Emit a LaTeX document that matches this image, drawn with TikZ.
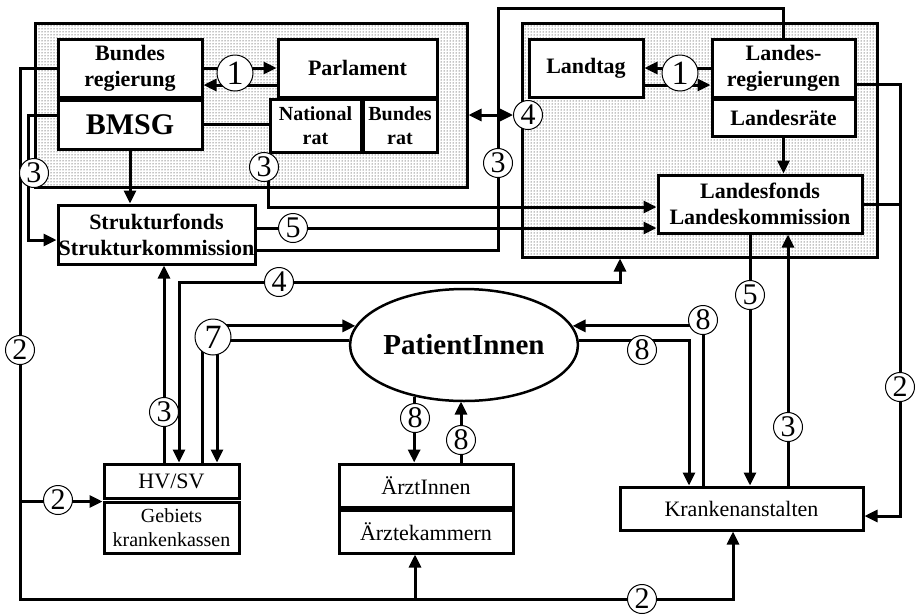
\documentclass[tikz,border=0pt]{standalone}
\usepackage{fontspec}
\setmainfont{Liberation Serif}
\usetikzlibrary{arrows.meta,patterns,shapes.geometric}

\begin{document}
\begin{tikzpicture}[x=1pt,y=-1pt,
  area/.style={draw,line width=3pt,pattern=dots,pattern color=black,inner sep=0pt},
  box/.style={draw,fill=white,line width=3pt,inner sep=0pt,align=center},
  bbox/.style={box,font=\bfseries\fontsize{22}{26}\selectfont},
  rbox/.style={box,font=\fontsize{22}{26}\selectfont},
  link/.style={line width=3pt},
  arr/.style={link,-{Triangle[length=13pt,width=12pt]}},
  darr/.style={link,{Triangle[length=13pt,width=12pt]}-{Triangle[length=13pt,width=12pt]}},
  num/.style={circle,draw,fill=white,line width=1pt,inner sep=0pt,minimum size=29pt,font=\fontsize{30}{30}\selectfont},
  bignum/.style={num,minimum size=36pt,font=\fontsize{34}{34}\selectfont}]
\useasboundingbox (0,0) rectangle (916,614);

% Bund und Land
\node[area,minimum width=432,minimum height=164] (bund) at (251,105) {};
\node[area,minimum width=355,minimum height=234] (land) at (699.5,140) {};

\node[bbox,minimum width=144,minimum height=58] (breg) at (130,68) {Bundes\\regierung};
\node[box,minimum width=144,minimum height=49,font=\bfseries\fontsize{30}{30}\selectfont] (bmsg) at (130,124.5) {BMSG};
\node[bbox,minimum width=159,minimum height=58] (parl) at (357.5,68) {Parlament};
\node[bbox,font=\bfseries\fontsize{20}{24}\selectfont,minimum width=91,minimum height=53] (nrat) at (315.5,125.5) {National\\rat};
\node[bbox,font=\bfseries\fontsize{20}{24}\selectfont,minimum width=74,minimum height=53] (brat) at (400,125.5) {Bundes\\rat};
\node[bbox,minimum width=197,minimum height=59] (sfonds) at (156.5,234.5) {Strukturfonds\\Strukturkommission};

\node[bbox,minimum width=114,minimum height=58] (ltag) at (586,68) {Landtag};
\node[bbox,minimum width=143,minimum height=58] (lreg) at (783.5,68) {Landes-\\regierungen};
\node[bbox,minimum width=143,minimum height=37] (lraete) at (783.5,117.5) {Landesräte};
\node[bbox,minimum width=204,minimum height=58] (lfonds) at (760,204) {Landesfonds\\Landeskommission};

% Akteure unten
\node[ellipse,draw,line width=2.5pt,minimum width=218,minimum height=112,inner sep=0pt,font=\bfseries\fontsize{29}{29}\selectfont] (patient) at (464,345) {PatientInnen};
\node[rbox,minimum width=135,minimum height=34] (hvsv) at (171.5,481) {HV/SV};
\node[rbox,font=\fontsize{20}{24}\selectfont,minimum width=135,minimum height=51] (gkk) at (171.5,527.5) {Gebiets\\krankenkassen};
\node[rbox,minimum width=174,minimum height=43] (aerzte) at (426,485.5) {ÄrztInnen};
\node[rbox,minimum width=174,minimum height=43] (akammer) at (426,531.5) {Ärztekammern};
\node[rbox,minimum width=243,minimum height=43] (kanst) at (741.5,508.5) {Krankenanstalten};

% Verbindungen
\coordinate (lt) at (20,68);
\coordinate (lb) at (20,599);
\draw[arr] (breg.west) -- (lt) -- (lb) -| ([xshift=-8.5pt]kanst.south);
\draw[arr] ([xshift=-11pt]akammer.south |- lb) -- ([xshift=-11pt]akammer.south);
\draw[arr] ([yshift=-2pt]lb |- hvsv.south west) -- ([yshift=-2pt]hvsv.south west);

\draw[arr] ([yshift=9.5pt]bmsg.west) -- (28,115) -- (28,240) -- ([yshift=-5.5pt]sfonds.west);
\draw[link] (bmsg.east) -- (bmsg.east -| nrat.west);
\draw[arr] (bmsg.south) -- (bmsg.south |- sfonds.north);
\draw[arr] (breg.east) -- (parl.west);
\draw[arr] ([yshift=-17pt]parl.west) -- ([yshift=-17pt]breg.east);
\draw[arr] (nrat.south west) |- ([yshift=-3pt]lfonds.west);
\draw[arr] ([yshift=6.5pt]sfonds.east) -- ([yshift=-24pt]lfonds.west);
\draw[link] ([yshift=-15.5pt]sfonds.east) -| (498,8) -| (lreg.north);
\coordinate (a4) at (513,115);
\draw[darr] (bund.east |- a4) -- (a4);

\draw[arr] (lreg.west) -- (ltag.east);
\draw[arr] ([yshift=-17pt]ltag.east) -- ([yshift=-17pt]lreg.west);
\draw[arr] (lraete.south) -- (lraete.south |- lfonds.north);
\coordinate (rt) at (900,84);
\coordinate (rb) at (900,516);
\draw[arr] ([yshift=-16pt]lreg.east) -- (rt) -- (rb) -- (rb -| kanst.east);
\draw[link] (lfonds.east) -- (lfonds.east -| rt);
\draw[arr] ([xshift=-10pt]lfonds.south) -- ([xshift=-10pt]lfonds.south |- kanst.north);
\draw[arr] ([xshift=28pt]lfonds.south |- kanst.north) -- ([xshift=28pt]lfonds.south);

\coordinate (a4b) at (620,282);
\draw[darr] ([xshift=7.5pt]hvsv.north) |- (a4b) -- (a4b |- land.south);
\draw[arr] ([xshift=-7.5pt]hvsv.north) -- ([xshift=-7.5pt]hvsv.north |- sfonds.south);
\draw[link] ([xshift=30.5pt]hvsv.north) |- (patient.178);
\draw[darr] ([xshift=45.5pt]hvsv.north) |- (patient.170);

\draw[arr] (patient.226) -- (patient.226 |- aerzte.north);
\draw[arr] ([xshift=35pt]aerzte.north) -- ++(0,-61);
\draw[arr] (patient.2) -| ([xshift=-52.5pt]kanst.north);
\draw[arr] ([xshift=-38.5pt]kanst.north) |- (patient.10);

% Nummern
\node[bignum] (n1a) at (235,73) {1};
\node[bignum] (n1b) at (680,73) {1};
\node[num] (n4a) at (528,115) {4};
\node[num] (n3a) at (34,173) {3};
\node[num] (n3b) at (264,167) {3};
\node[num] (n3c) at (498,163) {3};
\node[num] (n5a) at (293,228) {5};
\node[num] (n4b) at (279,282) {4};
\node[bignum] (n7) at (213,337) {7};
\node[num] (n3d) at (164,412) {3};
\node[num] (n2a) at (20,350) {2};
\node[num] (n2b) at (58,500) {2};
\node[num] (n8a) at (415,418) {8};
\node[num] (n8b) at (461,440) {8};
\node[num] (n8c) at (642,350) {8};
\node[num] (n8d) at (703,320) {8};
\node[num] (n5b) at (750,295) {5};
\node[num] (n3e) at (788,427) {3};
\node[num] (n2c) at (900,387) {2};
\node[num] (n2d) at (642,599) {2};
\end{tikzpicture}
\end{document}
